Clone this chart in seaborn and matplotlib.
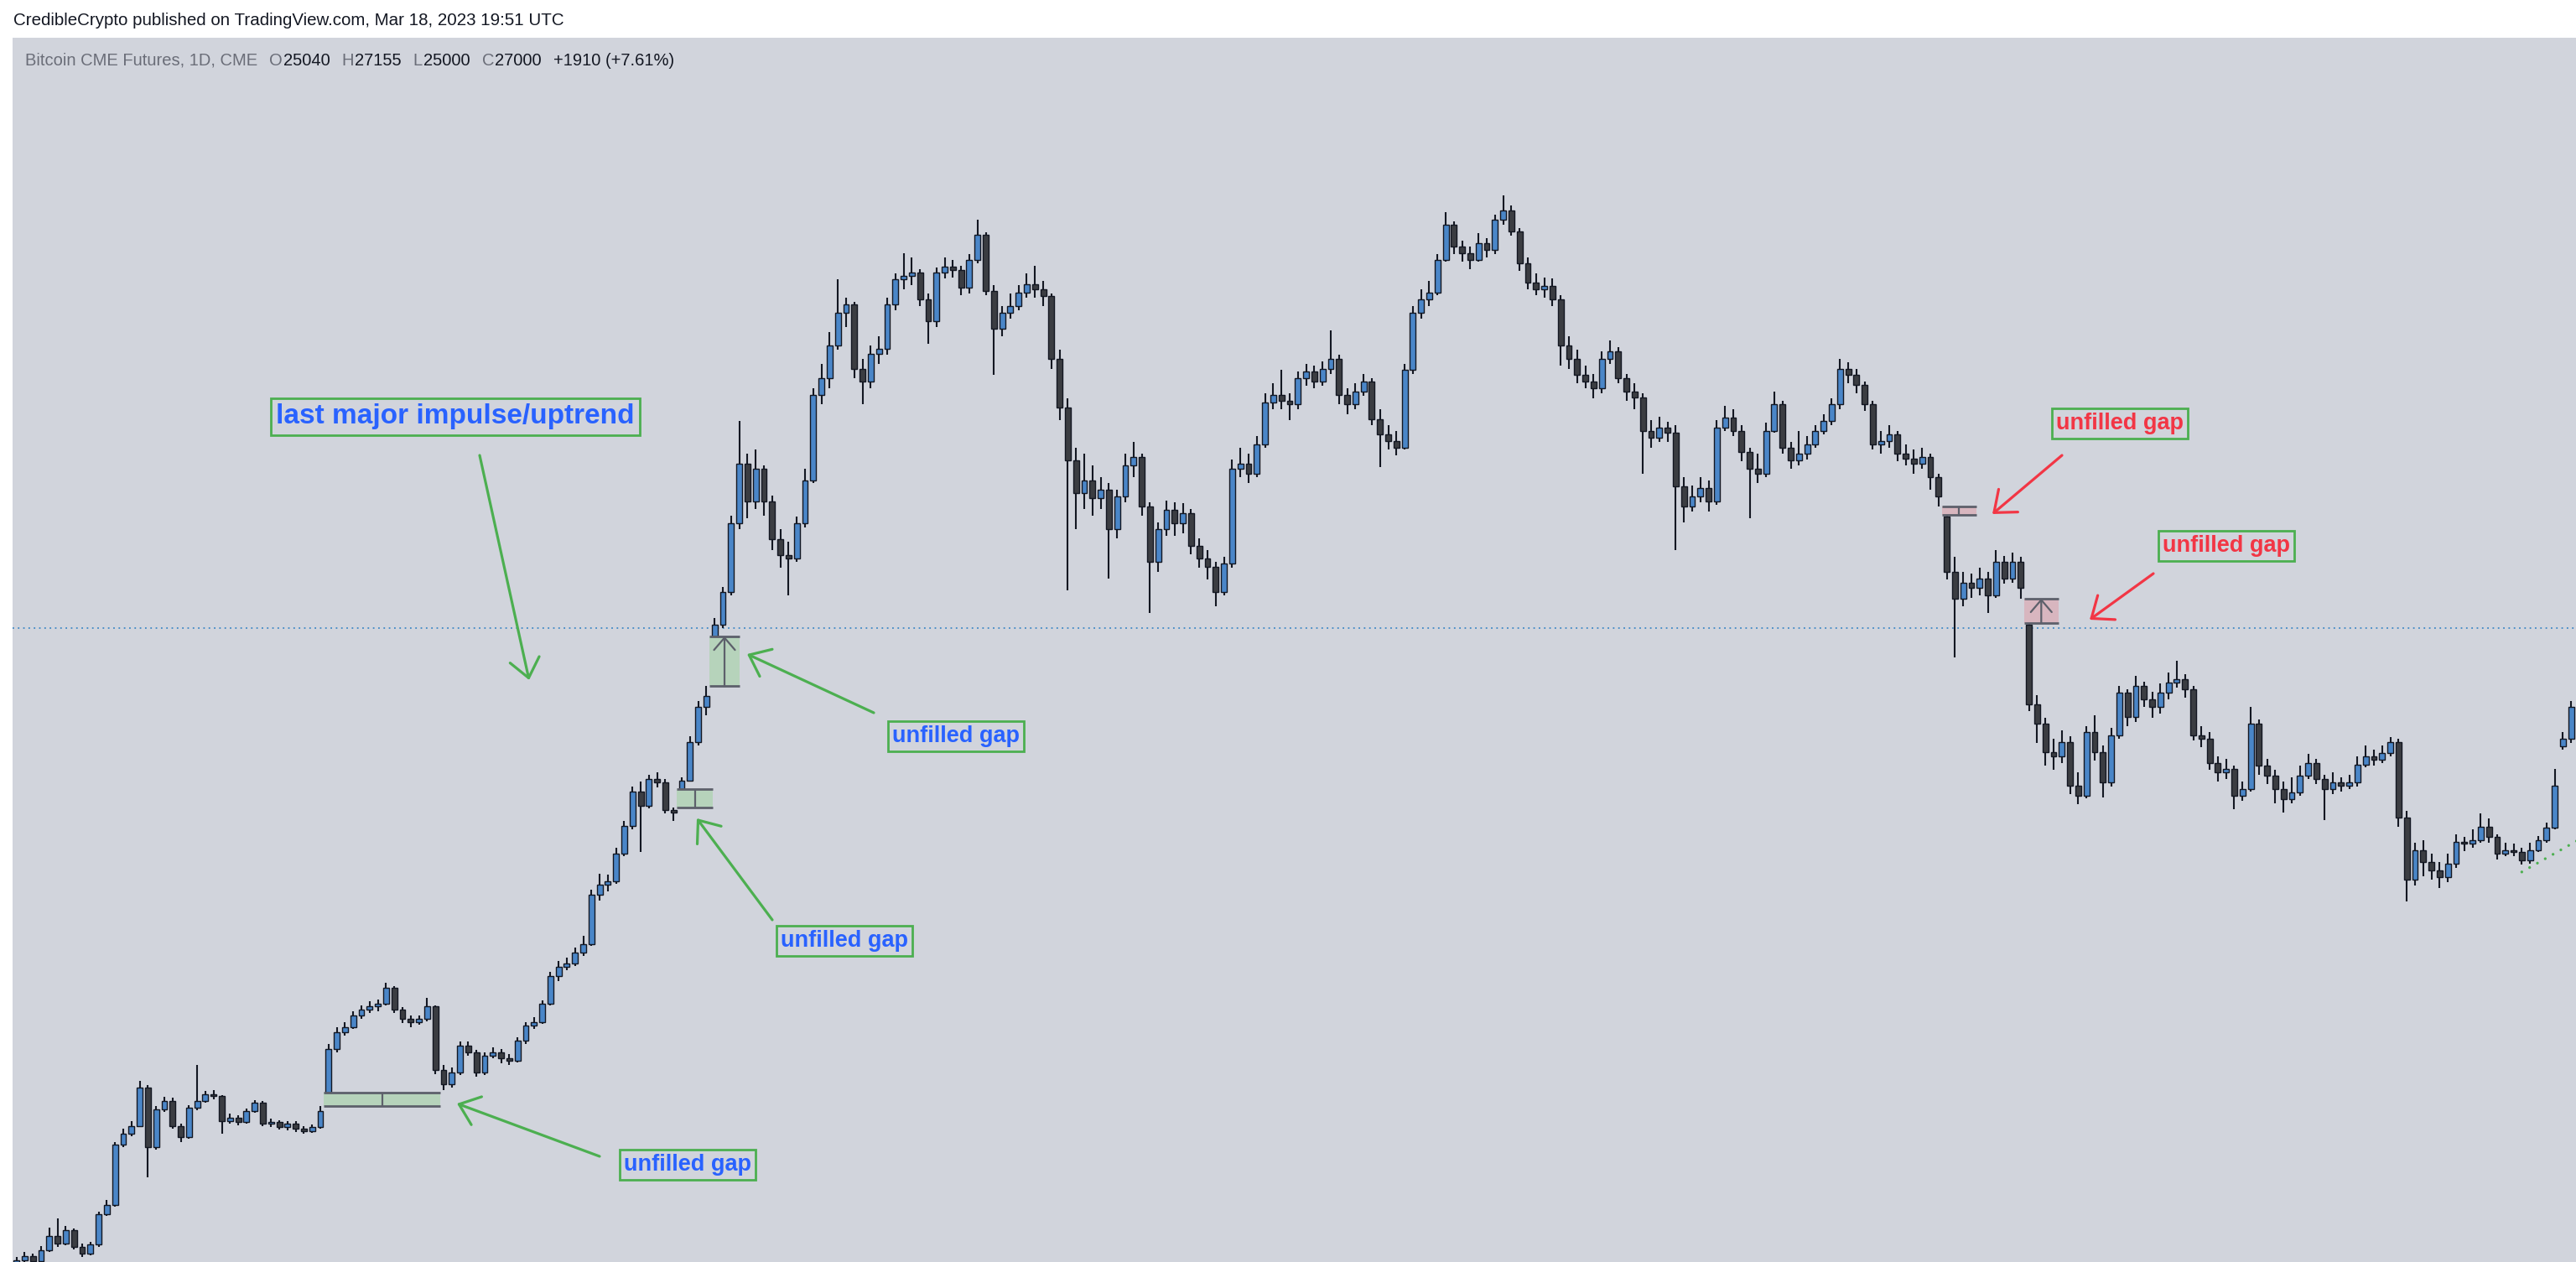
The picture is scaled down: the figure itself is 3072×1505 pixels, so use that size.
import numpy as np
import pandas as pd
import seaborn as sns
import matplotlib.pyplot as plt
from matplotlib.patches import Rectangle

# Bitcoin CME futures, daily candles (one candle here ~ two sessions)
closes = [
    6800, 6860, 6780, 6950, 7160, 7050, 7260, 7000, 6900, 7030,
    7520, 7670, 8750, 8950, 9110, 9900, 8690, 9450, 9620, 9110,
    8890, 9480, 9620, 9760, 9720, 9210, 9280, 9180, 9410, 9590,
    9150, 9180, 9080, 9150, 9050, 9010, 9080, 9410, 10780, 11180,
    11300, 11580, 11730, 11820, 11900, 12310, 11730, 11500, 11420, 11500,
    11820, 10300, 9970, 10230, 10850, 10700, 10230, 10620, 10700, 10550,
    10510, 10980, 11340, 11420, 11900, 12620, 12890, 12980, 13300, 13540,
    15070, 15410, 15520, 16500, 17510, 18900, 18300, 19420, 19280, 18150,
    18040, 19350, 21050, 22700, 23260, 27200, 29200, 33940, 38620, 35550,
    38180, 35550, 32730, 31630, 31400, 33940, 37230, 44900, 46500, 50000,
    53700, 54700, 47510, 46170, 49100, 49640, 54700, 57700, 58110, 58540,
    55300, 52700, 58540, 59370, 58950, 56700, 60230, 63600, 56300, 51800,
    53700, 54500, 56100, 57080, 56500, 55700, 48550, 43610, 38900, 36200,
    37230, 35810, 36460, 33460, 35940, 38480, 39180, 35150, 31180, 33460,
    34900, 33940, 34650, 32270, 31400, 30840, 29200, 31060, 38180, 38620,
    37770, 40300, 44090, 44900, 44260, 43930, 46500, 47180, 46170, 47510,
    48550, 44900, 43930, 45220, 46170, 42530, 41200, 40590, 40010, 47350,
    53700, 55300, 56100, 60230, 65000, 62000, 61100, 60230, 62450, 61560,
    65700, 67100, 64070, 59800, 57300, 56500, 56900, 55300, 50000, 48550,
    46830, 46170, 45540, 48550, 49290, 46500, 45220, 44580, 41500, 40880,
    41800, 41350, 36720, 35150, 35940, 36590, 35550, 41800, 42690, 41500,
    39590, 38180, 37770, 41500, 43930, 40010, 38900, 39460, 40300, 41500,
    42380, 43930, 47510, 46830, 45840, 43930, 40300, 40590, 41200, 39460,
    39040, 38620, 39180, 37500, 35940, 30520, 28780, 29770, 29470, 30080,
    29000, 31180, 30080, 31180, 29470, 22860, 21900, 20600, 20400, 21050,
    19140, 18730, 21500, 20600, 19280, 21350, 23430, 22220, 23770, 23090,
    22700, 23430, 23940, 24120, 23600, 21350, 21200, 20110, 19700, 19840,
    18730, 19000, 21900, 19980, 19560, 19000, 18590, 18860, 19560, 20110,
    19420, 19000, 19280, 19140, 19280, 20040, 20400, 20260, 20550, 21050,
    17830, 15600, 16620, 16210, 15900, 15680, 16130, 16920, 16860, 16980,
    17500, 17100, 16500, 16620, 16560, 16270, 16620, 16980, 17450, 19140,
    21200, 22700,
]

highs = [
    6850, 6920, 6900, 7010, 7300, 7440, 7330, 7290, 7050, 7080,
    7560, 7750, 8800, 9050, 9200, 10050, 9950, 9520, 9700, 9680,
    9160, 9530, 10400, 9830, 9850, 9750, 9350, 9320, 9460, 9640,
    9620, 9260, 9230, 9210, 9200, 9100, 9130, 9520, 10900, 11300,
    11420, 11700, 11850, 11950, 12000, 12450, 12350, 11800, 11600, 11600,
    12050, 11850, 10400, 10350, 10950, 10950, 10760, 10700, 10820, 10780,
    10650, 11050, 11420, 11550, 11980, 12750, 13050, 13150, 13450, 13800,
    15250, 15800, 15750, 16700, 17700, 19100, 19300, 19600, 19700, 19400,
    18230, 19500, 21300, 23000, 23770, 27600, 29500, 34500, 42400, 39500,
    39800, 38500, 36000, 33500, 32600, 34400, 38200, 45500, 48000, 51500,
    57700, 55500, 55000, 48500, 50000, 51000, 55500, 58500, 61100, 60500,
    59000, 56000, 59200, 60500, 60200, 59500, 61000, 65700, 64000, 57000,
    54500, 56000, 57000, 58500, 59500, 57500, 56000, 49500, 44500, 40000,
    39500, 38500, 37500, 37000, 36500, 39500, 40500, 39500, 35500, 34000,
    35600, 35500, 35400, 35000, 32800, 32000, 31200, 31500, 39000, 40000,
    39500, 41000, 45000, 46000, 47350, 45000, 47200, 48000, 47800, 48300,
    51620, 49000, 45500, 46000, 47000, 46500, 43500, 42000, 41500, 48000,
    54500, 56500, 57500, 61000, 66800, 65500, 62800, 62000, 63800, 63200,
    66500, 69350, 67800, 64500, 60500, 58500, 58000, 57800, 55800, 51000,
    49500, 47800, 47000, 49300, 50500, 49800, 47000, 46000, 45000, 42500,
    42800, 42300, 42000, 37500, 36800, 37500, 37200, 42500, 43800, 43500,
    42000, 40000, 39500, 42200, 45220, 44300, 40500, 41500, 41000, 42000,
    43000, 44500, 48550, 48200, 47500, 46200, 44300, 41500, 42000, 41500,
    40300, 39800, 40000, 39500, 37800, 34530, 31500, 30500, 30400, 30800,
    30500, 32000, 31600, 31800, 31500, 27290, 23300, 22200, 21200, 21600,
    21300, 19700, 21800, 22300, 20900, 21700, 23800, 23600, 24300, 24000,
    23500, 23900, 24500, 25120, 24400, 23800, 21800, 21500, 20400, 20300,
    20000, 19300, 22700, 22100, 20300, 19800, 19300, 19500, 20000, 20500,
    20300, 19600, 19700, 19500, 19600, 20400, 20900, 20700, 20900, 21280,
    21200, 18100, 16900, 17000, 16500, 16200, 16500, 17200, 17100, 17400,
    18000, 17800, 17200, 16900, 16850, 16700, 16900, 17150, 17650, 19840,
    21500, 23000,
]

lows = [
    6650, 6760, 6700, 6750, 6920, 7000, 7020, 6960, 6850, 6870,
    7000, 7480, 7640, 8700, 8900, 9080, 8150, 8650, 9400, 9050,
    8800, 8860, 9420, 9580, 9650, 8950, 9150, 9120, 9150, 9370,
    9100, 9080, 9030, 9020, 8990, 8950, 8970, 9050, 9790, 10700,
    11100, 11250, 11500, 11650, 11700, 11850, 11650, 11400, 11300, 11350,
    11450, 10200, 9850, 9900, 10180, 10620, 10150, 10180, 10560, 10450,
    10400, 10460, 10900, 11250, 11380, 11850, 12500, 12800, 12900, 13200,
    13500, 14900, 15200, 15450, 16400, 17400, 16560, 18200, 19050, 18000,
    17700, 19000, 19300, 20900, 22300, 26500, 27000, 29000, 33500, 34300,
    35000, 34500, 32000, 30800, 29000, 31200, 33600, 37000, 44000, 45500,
    49500, 52000, 46500, 43930, 45500, 48000, 49000, 54000, 56500, 57000,
    54500, 50180, 52000, 57800, 57900, 55800, 56000, 59800, 55800, 46830,
    51000, 53000, 54000, 55500, 55500, 54500, 47500, 42500, 29300, 33500,
    35000, 34500, 35000, 30080, 32800, 35500, 37500, 34500, 27900, 30500,
    33000, 33000, 33200, 31700, 30800, 30000, 28300, 29000, 30800, 37500,
    37000, 37500, 40000, 43500, 43500, 42500, 43500, 45800, 45500, 45800,
    47000, 44000, 43000, 43500, 44800, 42000, 38350, 39800, 39300, 39800,
    47000, 53000, 54500, 55800, 60000, 61000, 60000, 59000, 60000, 60500,
    61000, 65000, 63500, 58800, 56500, 55800, 55500, 54500, 47860, 47500,
    46000, 45500, 44500, 45000, 48000, 46000, 44300, 43500, 37770, 40000,
    40500, 40500, 32000, 34000, 34800, 35500, 34800, 35300, 41500, 41000,
    38800, 34280, 37000, 37500, 41300, 39500, 38200, 38500, 39000, 40000,
    41200, 42000, 43500, 46000, 45000, 43300, 39800, 39500, 40000, 38800,
    38500, 37800, 38200, 36500, 35150, 30000, 25300, 28300, 28800, 29000,
    27900, 28800, 29700, 29800, 28780, 22500, 21000, 20000, 19800, 20100,
    18800, 18370, 18600, 20200, 18660, 19100, 21200, 21800, 22000, 22700,
    22200, 22400, 23100, 23700, 23200, 21100, 20800, 19800, 19300, 19400,
    18170, 18500, 18900, 19600, 19200, 18400, 18040, 18400, 18700, 19400,
    19200, 17760, 18800, 18900, 19000, 19100, 19900, 20000, 20100, 20400,
    17500, 14850, 15400, 15700, 15600, 15300, 15500, 16000, 16600, 16700,
    16900, 16900, 16300, 16400, 16400, 16100, 16150, 16550, 16900, 17400,
    20680, 21000,
]

first_open = 6700
# sessions that opened away from the prior close (the gaps)
gap_opens = {38: 9800, 81: 19000, 85: 26500, 235: 34400, 245: 27200, 310: 20830}

# unfilled gaps: candle before the gap, where the box ends, up/down
gap_before = [37, 80, 84, 234, 244]
gap_until = [51.6, 84.8, 88.0, 238.6, 248.6]
gap_dir = ["up", "up", "up", "down", "down"]

last_price = 27000
trend_x = [305, 312.5]
trend_y = [15850, 17100]

header = "CredibleCrypto published on TradingView.com, Mar 18, 2023 19:51 UTC"
legend_parts = [("Bitcoin CME Futures, 1D, CME", "#6a6d78"),
                ("O", "#6a6d78"), ("25040", "#131722"),
                ("H", "#6a6d78"), ("27155", "#131722"),
                ("L", "#6a6d78"), ("25000", "#131722"),
                ("C", "#6a6d78"), ("27000", "#131722"),
                ("+1910 (+7.61%)", "#131722")]

opens = [first_open] + closes[:-1]
for k, v in gap_opens.items():
    opens[k] = v

df = pd.DataFrame({"open": opens, "high": highs, "low": lows, "close": closes})
df["idx"] = np.arange(len(df))
df["up"] = df["close"] >= df["open"]

sns.set_theme(style="white")
plt.rcParams["font.family"] = ["Liberation Sans", "DejaVu Sans"]

W, H = 3072, 1505
fig = plt.figure(figsize=(W / 100, H / 100), dpi=100)
fig.patch.set_facecolor("white")

def fx(px):
    return px / W

def fy(py):
    return 1 - py / H

ax = fig.add_axes([fx(15), 0, 1 - fx(15), 1 - 45 / H])
ax.set_facecolor("#d1d4dc")
ax.set_yscale("log")
ax.set_xlim(-0.47, 311.6)
ax.set_ylim(6770, 97770)
for s in ax.spines.values():
    s.set_visible(False)
ax.tick_params(which="both", left=False, bottom=False, labelleft=False, labelbottom=False)
ax.grid(False)

# candles
ax.vlines(df["idx"], df["low"], df["high"], color="#131722", lw=1.5, zorder=2)
body_lo = df[["open", "close"]].min(axis=1)
body_hi = df[["open", "close"]].max(axis=1)
body_h = np.maximum(body_hi - body_lo, body_lo * 0.002)
colors = np.where(df["up"], "#4a86c8", "#3b3d42")
ax.bar(df["idx"], body_h, bottom=body_lo, width=0.7, color=colors,
       edgecolor="#131722", linewidth=1.0, zorder=3)

# last price line
ax.axhline(last_price, color="#3f88c5", lw=1.3, ls=(0, (1, 2.5)), zorder=1)

# unfilled gap boxes
for pre, end, d in zip(gap_before, gap_until, gap_dir):
    if d == "up":
        lo, hi = highs[pre], lows[pre + 1]
        fill = "#b4d3b8"
    else:
        lo, hi = highs[pre + 1], lows[pre]
        fill = "#d9b3bc"
    x0 = pre + 0.4
    ax.add_patch(Rectangle((x0, lo), end - x0, hi - lo, facecolor=fill,
                           edgecolor="none", alpha=0.9, zorder=4))
    ax.hlines([lo, hi], x0, end, color="#5d606b", lw=2, zorder=5)
    xm = (x0 + end) / 2
    if hi / lo > 1.05:
        ax.annotate("", xy=(xm, hi), xytext=(xm, lo),
                    arrowprops=dict(arrowstyle="->,head_length=0.35,head_width=0.3",
                                    color="#5d606b", lw=1.6, mutation_scale=30,
                                    shrinkA=0, shrinkB=0), zorder=5)
    else:
        ax.vlines(xm, lo, hi, color="#5d606b", lw=1.6, zorder=5)

# trend line (green dotted)
sns.lineplot(x=trend_x, y=trend_y, ax=ax, color="#4caf50", lw=2.4,
             linestyle=(0, (0.01, 3.2)), dash_capstyle="round", zorder=4)

# header and legend text
fig.text(fx(16), fy(25), header, fontsize=14.8, color="#131722", va="center")
renderer = fig.canvas.get_renderer()
x = 30.0
for k, (txt, col) in enumerate(legend_parts):
    t = fig.text(fx(x), fy(72), txt, fontsize=14.5, color=col, va="center")
    w = t.get_window_extent(renderer).width
    letter = txt in ("O", "H", "L", "C")
    x += w + (1 if letter else 14)

# annotation boxes and arrows
green = "#4caf50"
blue = "#2962ff"
red = "#f23645"

labels = [
    ("last major impulse/uptrend", 543, 497, 24, blue),
    ("unfilled gap", 1140, 878, 19.5, blue),
    ("unfilled gap", 1007, 1122, 19.5, blue),
    ("unfilled gap", 820, 1389, 19.5, blue),
    ("unfilled gap", 2528, 505, 19.5, red),
    ("unfilled gap", 2655, 651, 19.5, red),
]
for txt, px, py, fs, col in labels:
    fig.text(fx(px), fy(py), txt, fontsize=fs, fontweight="bold", color=col,
             ha="center", va="center",
             bbox=dict(boxstyle="square,pad=0.2", facecolor="none",
                       edgecolor=green, linewidth=2))

arrows = [
    ((572, 543), (631, 811), green),
    ((1042, 850), (891, 780), green),
    ((921, 1097), (831, 976), green),
    ((715, 1379), (545, 1316), green),
    ((2459, 543), (2376, 613), red),
    ((2568, 684), (2492, 739), red),
]
for (x0, y0), (x1, y1), col in arrows:
    ax.annotate("", xy=(fx(x1), fy(y1)), xytext=(fx(x0), fy(y0)),
                xycoords="figure fraction", textcoords="figure fraction",
                arrowprops=dict(arrowstyle="->,head_length=0.4,head_width=0.32",
                                color=col, lw=2.3, mutation_scale=40,
                                shrinkA=0, shrinkB=0), zorder=6)

fig.savefig("out.png", dpi=100, facecolor="white")
